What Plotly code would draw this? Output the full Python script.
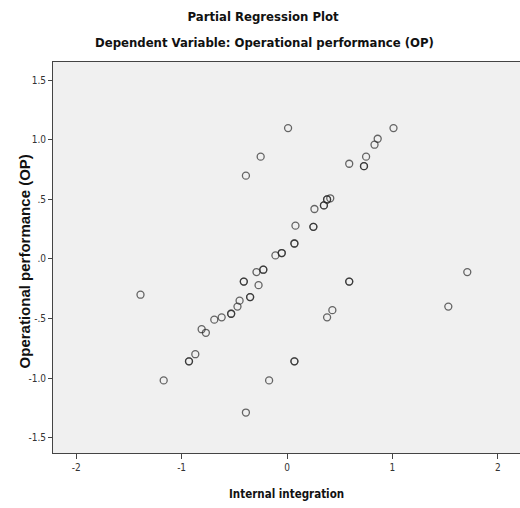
import plotly.graph_objects as go

# Partial regression points (duplicates appear darker where they overlap)
internal_integration = [
    0.01, -0.25, -0.39, -0.11, -0.05, -0.05,
    1.01, 0.86, 0.83, 0.75, 0.73, 0.73, 0.59, 0.41, 0.38, 0.38, 0.35, 0.35, 0.26,
    0.08, 0.25, 0.25, 0.07, 0.07,
    -0.225, -0.225, -0.29, -0.41, -0.41, -0.27, -0.35, -0.35, -0.45, -0.47,
    -0.53, -0.53, -0.62, -0.69, -0.81, -0.77, -0.87, -0.93, -0.93,
    -1.39, -1.17, -0.17, -0.39,
    0.59, 0.59, 0.43, 0.38, 0.07, 0.07, 1.71, 1.53,
]
operational_performance = [
    1.10, 0.86, 0.70, 0.03, 0.05, 0.05,
    1.10, 1.01, 0.96, 0.86, 0.78, 0.78, 0.80, 0.51, 0.50, 0.50, 0.45, 0.45, 0.42,
    0.28, 0.27, 0.27, 0.13, 0.13,
    -0.09, -0.09, -0.11, -0.19, -0.19, -0.22, -0.32, -0.32, -0.35, -0.40,
    -0.46, -0.46, -0.49, -0.51, -0.59, -0.62, -0.80, -0.86, -0.86,
    -0.30, -1.02, -1.02, -1.29,
    -0.19, -0.19, -0.43, -0.49, -0.86, -0.86, -0.11, -0.40,
]

y_tickvals = [1.5, 1.0, 0.5, 0.0, -0.5, -1.0, -1.5]
y_ticktext = ["1.5", "1.0", ".5", ".0", "-.5", "-1.0", "-1.5"]
x_tickvals = [-2, -1, 0, 1, 2]
x_ticktext = ["-2", "-1", "0", "1", "2"]

narrow = "DejaVu Sans Condensed, Liberation Sans, sans-serif"
sans = "Liberation Sans, Arial, sans-serif"

fig = go.Figure()
fig.add_trace(go.Scatter(
    x=internal_integration, y=operational_performance, mode="markers",
    marker=dict(symbol="circle-open", size=7, color="rgba(40,40,40,0.7)",
                line=dict(width=1.3, color="rgba(40,40,40,0.7)")),
    hoverinfo="x+y", showlegend=False,
))

fig.update_layout(
    width=520, height=508,
    margin=dict(l=53, r=0, t=62, b=55),
    paper_bgcolor="white", plot_bgcolor="#f0f0f0",
    font=dict(family=narrow, color="#222"),
    title=dict(text="<b>Partial Regression Plot</b>", xref="container", x=0.506,
               xanchor="center", yref="container", y=1 - 16 / 508, yanchor="middle",
               font=dict(size=13, family=narrow, color="#111")),
    xaxis=dict(range=[-2.22, 2.21], tickvals=x_tickvals, ticktext=x_ticktext,
               ticks="outside", ticklen=5, tickcolor="#444", showgrid=False,
               zeroline=False, showline=True, mirror=True, linecolor="#444",
               linewidth=1, tickfont=dict(size=10, family=narrow, color="#333")),
    yaxis=dict(range=[-1.63, 1.655], tickvals=y_tickvals, ticktext=y_ticktext,
               ticks="outside", ticklen=4, tickcolor="#444", showgrid=False,
               zeroline=False, showline=True, mirror=False, linecolor="#444",
               linewidth=1, tickfont=dict(size=10, family=narrow, color="#333")),
    annotations=[
        dict(text="<b>Dependent Variable: Operational performance (OP)</b>",
             xref="paper", yref="paper", x=0.452, y=1 + (62 - 43) / 391,
             xanchor="center", yanchor="middle", showarrow=False,
             font=dict(size=13, family=narrow, color="#111")),
        dict(text="<b>Internal integration</b>", xref="paper", yref="paper",
             x=0.5, y=-(494 - 453) / 391, xanchor="center", yanchor="middle",
             showarrow=False, font=dict(size=11.5, family=narrow, color="#111")),
        dict(text="<b>Operational performance (OP)</b>", xref="paper", yref="paper",
             x=(24 - 53) / 467, y=0.49, xanchor="center", yanchor="middle",
             textangle=-90, showarrow=False,
             font=dict(size=15, family=sans, color="#111")),
    ],
)

fig.write_html("out.html")
